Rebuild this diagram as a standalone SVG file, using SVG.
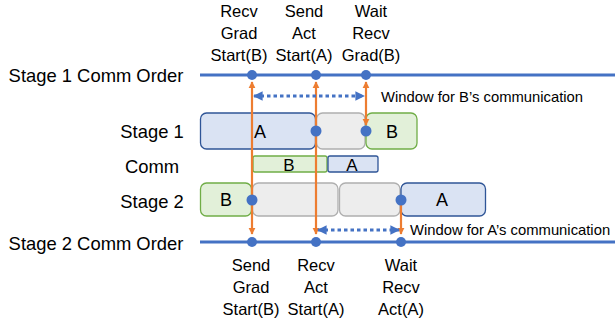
<svg xmlns="http://www.w3.org/2000/svg" width="615" height="321" viewBox="0 0 615 321">
<defs>
<style>
text{font-family:"Liberation Sans",Arial,sans-serif;fill:#000}
.lbl{font-size:16.5px;text-anchor:middle}
.stg{font-size:18.4px;text-anchor:middle}
.win{font-size:14.8px}
.box{font-size:18px;text-anchor:middle}
.bl{fill:#DAE3F3;stroke:#2F5597;stroke-width:1.3}
.gr{fill:#E2F0D9;stroke:#70AD47;stroke-width:1.3}
.gy{fill:#EDEDED;stroke:#AFAFAF;stroke-width:1.3}
.tl{stroke:#4472C4;stroke-width:3;fill:none}
.dot{fill:#4472C4}
.or{stroke:#ED7D31;stroke-width:2.2;fill:none}
.dash{stroke:#4472C4;stroke-width:3;stroke-dasharray:3.5 3;fill:none}
</style>
<marker id="oa" viewBox="0 0 10 10" refX="9" refY="5" markerWidth="3.2" markerHeight="3.2" orient="auto-start-reverse" markerUnits="strokeWidth">
<path d="M0,0 L10,5 L0,10 Z" fill="#ED7D31"/>
</marker>
<marker id="ba" viewBox="0 0 10 10" refX="9" refY="5" markerWidth="3.2" markerHeight="3.2" orient="auto-start-reverse" markerUnits="strokeWidth">
<path d="M0,0 L10,5 L0,10 Z" fill="#4472C4"/>
</marker>
</defs>

<g id="labels">
<text class="stg" x="96" y="82">Stage 1 Comm Order</text>
<text class="stg" x="152" y="138">Stage 1</text>
<text class="stg" x="152" y="173">Comm</text>
<text class="stg" x="152" y="208">Stage 2</text>
<text class="stg" x="96" y="250">Stage 2 Comm Order</text>
</g>

<g id="top-labels">
<text class="lbl" x="239" y="17">Recv</text>
<text class="lbl" x="239" y="39">Grad</text>
<text class="lbl" x="239" y="61">Start(B)</text>
<text class="lbl" x="304" y="17">Send</text>
<text class="lbl" x="304" y="39">Act</text>
<text class="lbl" x="304" y="61">Start(A)</text>
<text class="lbl" x="371" y="17">Wait</text>
<text class="lbl" x="371" y="39">Recv</text>
<text class="lbl" x="371" y="61">Grad(B)</text>
</g>

<g id="bottom-labels">
<text class="lbl" x="251" y="271">Send</text>
<text class="lbl" x="251" y="293">Grad</text>
<text class="lbl" x="251" y="315">Start(B)</text>
<text class="lbl" x="316" y="271">Recv</text>
<text class="lbl" x="316" y="293">Act</text>
<text class="lbl" x="316" y="315">Start(A)</text>
<text class="lbl" x="401" y="271">Wait</text>
<text class="lbl" x="401" y="293">Recv</text>
<text class="lbl" x="401" y="315">Act(A)</text>
</g>

<g id="stage1">
<g id="s1-A"><rect class="bl" x="200.5" y="113" width="115" height="36" rx="6"/><text class="box" x="260" y="138">A</text></g>
<g id="s1-idle"><rect class="gy" x="316.5" y="113" width="48.5" height="36" rx="6"/></g>
<g id="s1-B"><rect class="gr" x="366" y="113" width="51" height="36" rx="6"/><text class="box" x="392" y="138">B</text></g>
</g>

<g id="comm">
<g id="c-B"><rect class="gr" x="253" y="156" width="74" height="16" rx="2"/><text class="box" x="289" y="171" style="font-size:17px">B</text></g>
<g id="c-A"><rect class="bl" x="328" y="156" width="50" height="16" rx="2"/><text class="box" x="352" y="171" style="font-size:17px">A</text></g>
</g>

<g id="stage2">
<g id="s2-B"><rect class="gr" x="200.5" y="183" width="51" height="33" rx="6"/><text class="box" x="226" y="206">B</text></g>
<g id="s2-idle1"><rect class="gy" x="252.5" y="183" width="85.5" height="33" rx="6"/></g>
<g id="s2-idle2"><rect class="gy" x="339.5" y="183" width="60.5" height="33" rx="6"/></g>
<g id="s2-A"><rect class="bl" x="401" y="183" width="84.5" height="33" rx="6"/><text class="box" x="442" y="206">A</text></g>
</g>

<g id="timelines">
<line class="tl" x1="200" y1="75" x2="615" y2="75"/>
<line class="tl" x1="200" y1="242" x2="615" y2="242"/>
</g>

<g id="connectors">
<line class="or" x1="252" y1="82" x2="252" y2="234" marker-start="url(#oa)" marker-end="url(#oa)"/>
<line class="or" x1="316" y1="82" x2="316" y2="234" marker-start="url(#oa)" marker-end="url(#oa)"/>
<line class="or" x1="366" y1="82" x2="366" y2="125" marker-start="url(#oa)" marker-end="url(#oa)"/>
<line class="or" x1="401" y1="200" x2="401" y2="234" marker-end="url(#oa)"/>
<line class="dash" x1="254" y1="96" x2="364" y2="96" marker-start="url(#ba)" marker-end="url(#ba)"/>
<line class="dash" x1="318" y1="230" x2="399" y2="230" marker-start="url(#ba)" marker-end="url(#ba)"/>
</g>

<g id="dots">
<circle class="dot" cx="252" cy="75" r="5"/>
<circle class="dot" cx="316" cy="75" r="5"/>
<circle class="dot" cx="366" cy="75" r="5"/>
<circle class="dot" cx="316" cy="131" r="5.5"/>
<circle class="dot" cx="366" cy="131" r="5.5"/>
<circle class="dot" cx="252" cy="200" r="5.5"/>
<circle class="dot" cx="401" cy="200" r="5.5"/>
<circle class="dot" cx="252" cy="242" r="5"/>
<circle class="dot" cx="316" cy="242" r="5"/>
<circle class="dot" cx="401" cy="242" r="5"/>
</g>

<g id="window-labels">
<text class="win" x="381" y="102">Window for B’s communication</text>
<text class="win" x="410" y="235">Window for A’s communication</text>
</g>
</svg>
